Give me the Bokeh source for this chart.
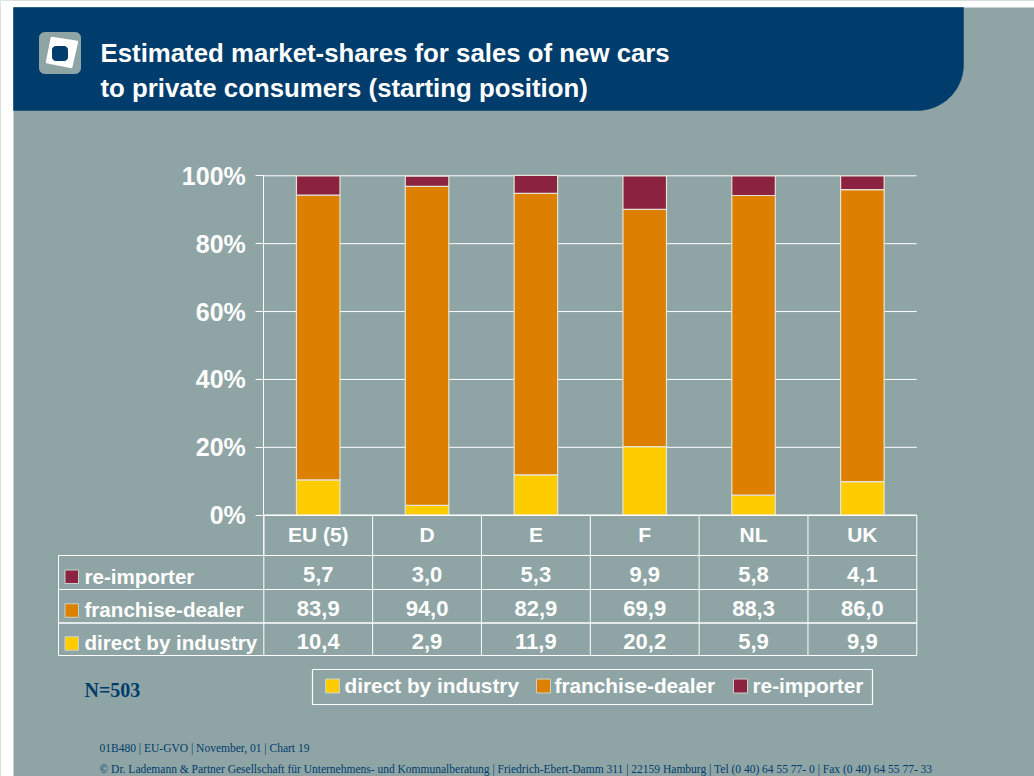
import numpy as np
from bokeh.plotting import figure
from bokeh.models import Range1d, PrintfTickFormatter, FixedTicker
from bokeh.core.properties import value
from bokeh.embed import file_html
from bokeh.resources import INLINE

categories = ["EU (5)", "D", "E", "F", "NL", "UK"]
direct = [10.4, 2.9, 11.9, 20.2, 5.9, 9.9]
dealer = [83.9, 94.0, 82.9, 69.9, 88.3, 86.0]
reimp = [5.7, 3.0, 5.3, 9.9, 5.8, 4.1]
series_names = ["direct by industry", "franchise-dealer", "re-importer"]
colors = ["#FFCC00", "#DD8000", "#8B2340"]
y_ticks = [0, 20, 40, 60, 80, 100]
title_lines = ["Estimated market-shares for sales of new cars",
               "to private consumers (starting position)"]
footer_lines = ["01B480 | EU-GVO | November, 01 | Chart 19",
                "\u00a9 Dr. Lademann & Partner Gesellschaft f\u00fcr Unternehmens- und Kommunalberatung | Friedrich-Ebert-Damm 311 | 22159 Hamburg | Tel (0 40) 64 55 77- 0 | Fax (0 40) 64 55 77- 33"]
note = "N=503"

W, H = 1034, 776
BG = "#8FA5A5"
NAVY = "#003C6C"
SANS = "Liberation Sans"
SERIF = "Liberation Serif"
EDGE = "#E6E2D6"

L, R, T, B = 263.3, 916.3, 175.3, 514.7
n = len(categories)
col_w = (R - L) / n
per_pct = (B - T) / 100

p = figure(width=W, height=H,
           x_range=Range1d(-L / col_w, (W - L) / col_w),
           y_range=Range1d(-(H - B) / per_pct, T / per_pct + 100),
           output_backend="svg", toolbar_location=None,
           min_border=0, min_border_left=0, min_border_right=0, min_border_top=0, min_border_bottom=0,
           background_fill_color=BG, border_fill_color=BG, outline_line_color=None)
p.extra_x_ranges["px"] = Range1d(0, W)
p.extra_y_ranges["px"] = Range1d(H, 0)

PX = dict(x_range_name="px", y_range_name="px")

def box(x0, y0, x1, y1, fill=None, line=None, lw=1.0):
    p.quad(left=[x0], right=[x1], top=[y0], bottom=[y1],
           fill_color=fill, fill_alpha=1 if fill else 0,
           line_color=line, line_width=lw, line_alpha=1 if line else 0, **PX)

def text(x, y, s, size, color="white", font=SANS, style="bold", align="left", data_x=False):
    kw = dict(y_range_name="px") if data_x else PX
    p.text(x=[x], y=[y], text=[s], text_font=value(font), text_font_size=value(f"{size}px"),
           text_font_style=style, text_color=color, text_align=align, text_baseline="middle", **kw)

# page: white strips
box(0, 0, 13, H, fill="white")
box(0, 0, W, 7, fill="white")

# navy header with rounded lower-right corner
rad = 46
t = np.linspace(0, np.pi / 2, 24)
hx = [13, 963] + list(963 - rad + rad * np.cos(t)) + [13]
hy = [7, 7] + list(110 - rad + rad * np.sin(t)) + [110]
p.patch(hx, hy, fill_color=NAVY, line_color=NAVY, line_width=0.5, **PX)

# logo
t2 = np.linspace(0, np.pi / 2, 8)
def rrect(x0, y0, x1, y1, r):
    xs, ys = [], []
    for cx, cy, a in [(x1 - r, y1 - r, 0), (x0 + r, y1 - r, np.pi / 2), (x0 + r, y0 + r, np.pi), (x1 - r, y0 + r, 1.5 * np.pi)]:
        xs += list(cx + r * np.cos(a + t2))
        ys += list(cy + r * np.sin(a + t2))
    return xs, ys
lx, ly = rrect(39, 32, 80, 73, 5)
p.patch(lx, ly, fill_color=BG, line_color=BG, **PX)
p.patch([51, 77, 71, 46], [37, 41, 67, 62], fill_color="white", line_color="white", line_width=1.5, **PX)
ix, iy = rrect(52, 46, 67, 60, 3)
p.patch(ix, iy, fill_color=NAVY, line_color=NAVY, **PX)

text(100, 52, title_lines[0], 25.8)
text(100, 87, title_lines[1], 25.8)

# gridlines drawn on the main scales, limited to the plot area
p.xgrid.visible = False
p.ygrid.visible = False
p.segment(x0=[0] * len(y_ticks), x1=[n] * len(y_ticks), y0=y_ticks, y1=y_ticks, line_color="white", line_width=1)

# stacked bars from the data through the main scales
xpos = [i + 0.5 for i in range(n)]
p.vbar_stack(["a", "b", "c"], x="x", width=0.4, color=colors, line_color=EDGE, line_width=1.2,
             source=dict(x=xpos, a=direct, b=dealer, c=reimp))

ya = p.yaxis[0]
ya.fixed_location = 0
ya.bounds = (0, 100)
ya.ticker = FixedTicker(ticks=y_ticks)
ya.formatter = PrintfTickFormatter(format="%d%%")
ya.axis_line_color = "white"
ya.major_tick_line_color = "white"
ya.major_tick_in = 0
ya.major_tick_out = 8
ya.minor_tick_line_color = None
ya.major_label_text_font = SANS
ya.major_label_text_font_size = "25px"
ya.major_label_text_font_style = "bold"
ya.major_label_text_color = "white"
ya.major_label_standoff = 10

xa = p.xaxis[0]
xa.fixed_location = 0
xa.bounds = (0, n)
xa.ticker = FixedTicker(ticks=xpos)
xa.major_label_overrides = {x: c for x, c in zip(xpos, categories)}
xa.axis_line_color = "white"
xa.major_tick_line_color = None
xa.minor_tick_line_color = None
xa.major_label_text_font = SANS
xa.major_label_text_font_size = "21px"
xa.major_label_text_font_style = "bold"
xa.major_label_text_color = "white"
xa.major_label_standoff = 2

# data table grid
rows = [555, 589, 622.5, 655]
box(L, B, R, rows[0], line="white")
for a, b in zip(rows[:-1], rows[1:]):
    box(58, a, R, b, line="white")
for i in range(n):
    x = L + i * col_w
    p.segment(x0=[x], x1=[x], y0=[B], y1=[rows[3]], line_color="white", line_width=1, **PX)

table = [(reimp, series_names[2], colors[2]), (dealer, series_names[1], colors[1]), (direct, series_names[0], colors[0])]
for r, (vals, name, col) in enumerate(table):
    ym = (rows[r] + rows[r + 1]) / 2
    box(64.5, ym - 2.5, 78, ym + 11, fill=col, line="#C8D2CC")
    text(84, ym + 3.5, name, 20.6)
    for x, v in zip(xpos, vals):
        text(x, ym + 2, f"{v:.1f}".replace(".", ","), 22, align="center", data_x=True)

# legend
box(312, 669, 872, 704, line="white", lw=1.2)
leg = [(325, 344), (536, 554), (733, 752)]
for (sq, tx), name, col in zip(leg, series_names, colors):
    box(sq, 678.5, sq + 14, 692.5, fill=col, line="#C8D2CC")
    text(tx, 685, name, 20.8)

text(84, 689, note, 20, color=NAVY, font=SERIF)
text(99, 747, footer_lines[0], 11.5, color=NAVY, font=SERIF, style="normal")
text(99, 768.5, footer_lines[1], 11.5, color=NAVY, font=SERIF, style="normal")

open("out.html", "w").write(file_html(p, INLINE))
